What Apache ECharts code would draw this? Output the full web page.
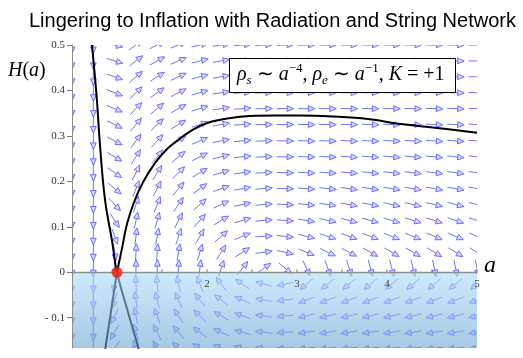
<!DOCTYPE html>
<html>
<head>
<meta charset="utf-8">
<script src="https://cdn.jsdelivr.net/npm/echarts@6/dist/echarts.min.js"></script>
<style>
html, body { margin: 0; padding: 0; background: #fff; }
#main { width: 523px; height: 358px; }
</style>
</head>
<body>
<div id="main"></div>
<script>
// grid of the direction field (a across, H down)
var gridA = [0.5, 0.737, 0.974, 1.211, 1.447, 1.684, 1.921, 2.158, 2.395, 2.632,
             2.868, 3.105, 3.342, 3.579, 3.816, 4.053, 4.289, 4.526, 4.763, 5.0];
var gridH = [0.5, 0.465, 0.430, 0.395, 0.360, 0.325, 0.289, 0.254, 0.219, 0.184,
             0.149, 0.114, 0.079, 0.044, 0.009, -0.026, -0.061, -0.096, -0.132, -0.167];

// arrow direction on screen, degrees (0 = right, 90 = up), one row per H value
var row0  = [-90, -90, -14, 35, 26, 21, 13, 9, 5, 3, 2, 1, 1, 0, 0, 0, 0, 0, 0, 0];
var row1  = [-90, -90, -17, 38, 29, 23, 14, 10, 5, 3, 1, 1, 0, 0, 0, 0, 0, 0, 0, 0];
var row2  = [-90, -90, -19, 41, 32, 25, 15, 10, 5, 3, 1, 0, 0, 0, 0, 0, 0, 0, 0, 0];
var row3  = [-90, -90, -21, 44, 36, 27, 16, 9, 4, 2, 0, 0, 0, 0, 0, -1, -1, -1, -1, -1];
var row4  = [-90, -90, -23, 47, 40, 29, 17, 9, 4, 1, 0, 0, -1, -1, -1, -1, -1, -2, -2, -2];
var row5  = [-90, -90, -26, 50, 44, 31, 19, 10, 4, 1, 0, -1, -1, -1, -2, -2, -2, -2, -3, -3];
var row6  = [-90, -90, -28, 54, 48, 35, 23, 11, 5, 2, -1, -2, -2, -3, -3, -3, -3, -4, -4, -4];
var row7  = [-90, -90, -31, 58, 53, 40, 27, 14, 6, 2, -1, -2, -3, -4, -4, -5, -5, -5, -6, -6];
var row8  = [-90, -90, -35, 63, 58, 45, 31, 17, 8, 3, -2, -3, -4, -5, -6, -6, -7, -7, -8, -8];
var row9  = [-90, -90, -40, 68, 63, 50, 36, 20, 10, 4, -2, -4, -6, -7, -8, -9, -9, -10, -10, -11];
var row10 = [-90, -90, -47, 73, 69, 56, 42, 25, 12, 5, -3, -6, -8, -10, -11, -12, -13, -13, -14, -14];
var row11 = [-90, -90, -57, 78, 75, 63, 49, 31, 16, 5, -4, -9, -12, -14, -15, -16, -17, -17, -18, -18];
var row12 = [-90, -90, -70, 83, 80, 72, 60, 42, 22, 3, -6, -14, -18, -20, -21, -22, -22, -23, -23, -23];
var row13 = [-90, -90, -82, 87, 85, 80, 73, 57, 33, 8, -12, -22, -26, -28, -29, -30, -30, -31, -31, -31];
var row14 = [-90, -90, -89, 89, 88, 87, 83, 72, 52, 35, -40, -65, -70, -73, -75, -76, -77, -78, -78, -78];
var row15 = [-90, -90, -100, 93, 96, 102, 112, 128, 145, 165, -168, -140, -140, -140, -140, -140, -140, -140, -140, -140];
var row16 = [-90, -90, -108, 97, 104, 113, 127, 142, 156, 170, -173, -160, -160, -160, -160, -160, -160, -160, -160, -160];
var row17 = [-90, -90, -115, 101, 110, 123, 136, 150, 161, 172, -175, -167, -167, -167, -167, -167, -167, -167, -167, -167];
var row18 = [-90, -90, -120, 105, 115, 130, 143, 155, 164, 173, -177, -171, -171, -171, -171, -171, -171, -171, -171, -171];
var row19 = [-90, -90, -125, 108, 119, 135, 148, 158, 166, 175, -178, -174, -174, -174, -174, -174, -174, -174, -174, -174];
var fieldRows = [row0, row1, row2, row3, row4, row5, row6, row7, row8, row9,
                 row10, row11, row12, row13, row14, row15, row16, row17, row18, row19];

// separatrices through the static point
var curveA = [[0.722, 0.5], [0.774, 0.386], [0.811, 0.28], [0.867, 0.159], [0.944, 0.07],
              [1.0, 0], [1.117, -0.084], [1.241, -0.168]];
var curveBLow = [[0.87, -0.168], [0.935, -0.084], [1.0, 0]];
var curveB = [[1.0, 0], [1.056, 0.053], [1.111, 0.106], [1.189, 0.154], [1.289, 0.198],
              [1.422, 0.240], [1.556, 0.271], [1.7, 0.294], [1.844, 0.314], [2.011, 0.329],
              [2.244, 0.339], [2.478, 0.344], [2.756, 0.345], [3.033, 0.345], [3.411, 0.3425],
              [3.789, 0.337], [4.156, 0.326], [4.533, 0.318], [5.0, 0.307]];
var staticPoint = [[1, 0]];

var xTicks = [1, 1.5, 2, 2.5, 3, 3.5, 4, 4.5, 5];
var xTickLabels = [2, 3, 4, 5];
var yTickLabels = [-0.1, 0, 0.1, 0.2, 0.3, 0.4, 0.5];

var aMin = 0.5, aMax = 5, hMin = -1 / 6, hMax = 0.5;

// table for the custom series: [a, H, angle]
var fieldData = [];
for (var r = 0; r < gridH.length; r++) {
    for (var c = 0; c < gridA.length; c++) {
        fieldData.push([gridA[c], gridH[r], fieldRows[r][c]]);
    }
}
var xTickData = xTicks.map(function (v) {
    return [v, xTickLabels.indexOf(v) >= 0 ? 1 : 0];
});

var arrowColor = 'rgba(95, 95, 255, 0.88)';
var serif = 'Liberation Serif';

function renderArrow(params, api) {
    var p = api.coord([api.value(0), api.value(1)]);
    var ang = api.value(2) * Math.PI / 180;
    var half = 8.5;
    var ux = Math.cos(ang), uy = -Math.sin(ang);
    var x1 = p[0] - ux * half, y1 = p[1] - uy * half;
    var x2 = p[0] + ux * half, y2 = p[1] + uy * half;
    var hl = 6.5, hw = 2.9;
    var bx = x2 - ux * hl, by = y2 - uy * hl;
    var nx = -uy, ny = ux;
    return {
        type: 'group',
        children: [{
            type: 'line',
            shape: { x1: x1, y1: y1, x2: bx, y2: by },
            style: { stroke: arrowColor, lineWidth: 1 }
        }, {
            type: 'polygon',
            shape: { points: [[x2, y2], [bx + nx * hw, by + ny * hw], [bx - nx * hw, by - ny * hw]] },
            style: { fill: 'rgba(150, 150, 255, 0.4)', stroke: arrowColor, lineWidth: 1 }
        }]
    };
}

// light blue band under H = 0
function renderShade(params, api) {
    var p0 = api.coord([aMin, 0]);
    var p1 = api.coord([aMax, hMin]);
    return {
        type: 'rect',
        shape: { x: p0[0], y: p0[1], width: p1[0] - p0[0], height: p1[1] - p0[1] },
        style: {
            fill: new echarts.graphic.LinearGradient(0, 0, 0, 1, [
                { offset: 0, color: 'rgba(172, 220, 252, 0.6)' },
                { offset: 1, color: 'rgba(110, 164, 210, 0.6)' }
            ])
        }
    };
}

// ticks and numbers of the a axis, which sits on H = 0
function renderXTick(params, api) {
    var v = api.value(0);
    var p = api.coord([v, 0]);
    var children = [{
        type: 'line',
        shape: { x1: p[0], y1: p[1], x2: p[0], y2: p[1] - 3 },
        style: { stroke: '#777', lineWidth: 1 }
    }];
    if (api.value(1)) {
        children.push({
            type: 'text',
            style: {
                text: String(v), x: p[0], y: p[1] + 6, align: 'center', verticalAlign: 'top',
                font: '11px "' + serif + '"', fill: '#444'
            }
        });
    }
    return { type: 'group', children: children };
}

function curveSeries(name, pts) {
    return {
        type: 'line',
        name: name,
        z: 3,
        data: pts,
        smooth: 0.4,
        symbol: 'none',
        lineStyle: { color: '#000', width: 2 }
    };
}

var option = {
    animation: false,
    title: {
        text: 'Lingering to Inflation with Radiation and String Network',
        left: 24,
        top: 6,
        textStyle: { fontFamily: 'Liberation Sans', fontWeight: 'normal', fontSize: 20, color: '#000' }
    },
    grid: { left: 72, right: 46, top: 45, bottom: 10, containLabel: false, outerBoundsMode: 'none' },
    xAxis: {
        type: 'value',
        min: aMin,
        max: aMax,
        z: 5,
        axisLine: { onZero: true, lineStyle: { color: '#8f8f8f', width: 1.3 } },
        axisTick: { show: false },
        axisLabel: { show: false },
        splitLine: { show: false }
    },
    yAxis: {
        type: 'value',
        min: hMin,
        max: hMax,
        z: 5,
        axisLine: { show: true, onZero: false, lineStyle: { color: '#8f8f8f', width: 1 } },
        axisTick: { show: true, customValues: yTickLabels, length: 5, lineStyle: { color: '#777' } },
        axisLabel: {
            customValues: yTickLabels,
            margin: 7,
            fontFamily: serif,
            fontSize: 11,
            color: '#333',
            formatter: function (v) { return v < 0 ? '- ' + Math.abs(v) : String(v); }
        },
        splitLine: { show: false }
    },
    graphic: [{
        type: 'text',
        left: 8,
        top: 61,
        style: {
            text: '{i|H}{n|(}{i|a}{n|)}',
            rich: {
                i: { fontFamily: serif, fontStyle: 'italic', fontSize: 20, fill: '#000' },
                n: { fontFamily: serif, fontSize: 20, fill: '#000' }
            }
        }
    }, {
        type: 'text',
        left: 484,
        top: 254,
        style: { text: 'a', fontFamily: serif, fontStyle: 'italic', fontSize: 24, fill: '#000' }
    }, {
        type: 'rect',
        z: 100,
        shape: { x: 229.5, y: 58.5, width: 226, height: 34 },
        style: { fill: '#fff', stroke: '#000', lineWidth: 1 }
    }, {
        type: 'text',
        z: 101,
        left: 237,
        top: 62,
        style: {
            text: '{i|ρ}{sb|s}{n| ∼ }{i|a}{sp|−4}{n|, }{i|ρ}{sb|e}{n| ∼ }{i|a}{sp|−1}{n|, }{i|K}{n| = +1}',
            rich: {
                i: { fontFamily: serif, fontStyle: 'italic', fontSize: 20, fill: '#000', lineHeight: 25 },
                n: { fontFamily: serif, fontSize: 20, fill: '#000', lineHeight: 25 },
                sb: { fontFamily: serif, fontStyle: 'italic', fontSize: 13, fill: '#000', lineHeight: 14, verticalAlign: 'bottom' },
                sp: { fontFamily: serif, fontSize: 13, fill: '#000', lineHeight: 14, verticalAlign: 'top' }
            }
        }
    }],
    series: [{
        type: 'custom',
        name: 'field',
        z: 2,
        clip: true,
        renderItem: renderArrow,
        data: fieldData,
        silent: true
    },
    curveSeries('A', curveA),
    curveSeries('B', curveB),
    curveSeries('B low', curveBLow),
    {
        type: 'custom',
        name: 'shade',
        z: 4,
        renderItem: renderShade,
        data: [[aMin, hMin]],
        silent: true
    }, {
        type: 'custom',
        name: 'aTicks',
        z: 5,
        renderItem: renderXTick,
        data: xTickData,
        silent: true
    }, {
        type: 'scatter',
        name: 'static',
        z: 6,
        data: staticPoint,
        symbolSize: 11,
        itemStyle: { color: '#f21d0e' }
    }]
};

var myChart = echarts.init(document.getElementById('main'));
myChart.setOption(option);
</script>
</body>
</html>
